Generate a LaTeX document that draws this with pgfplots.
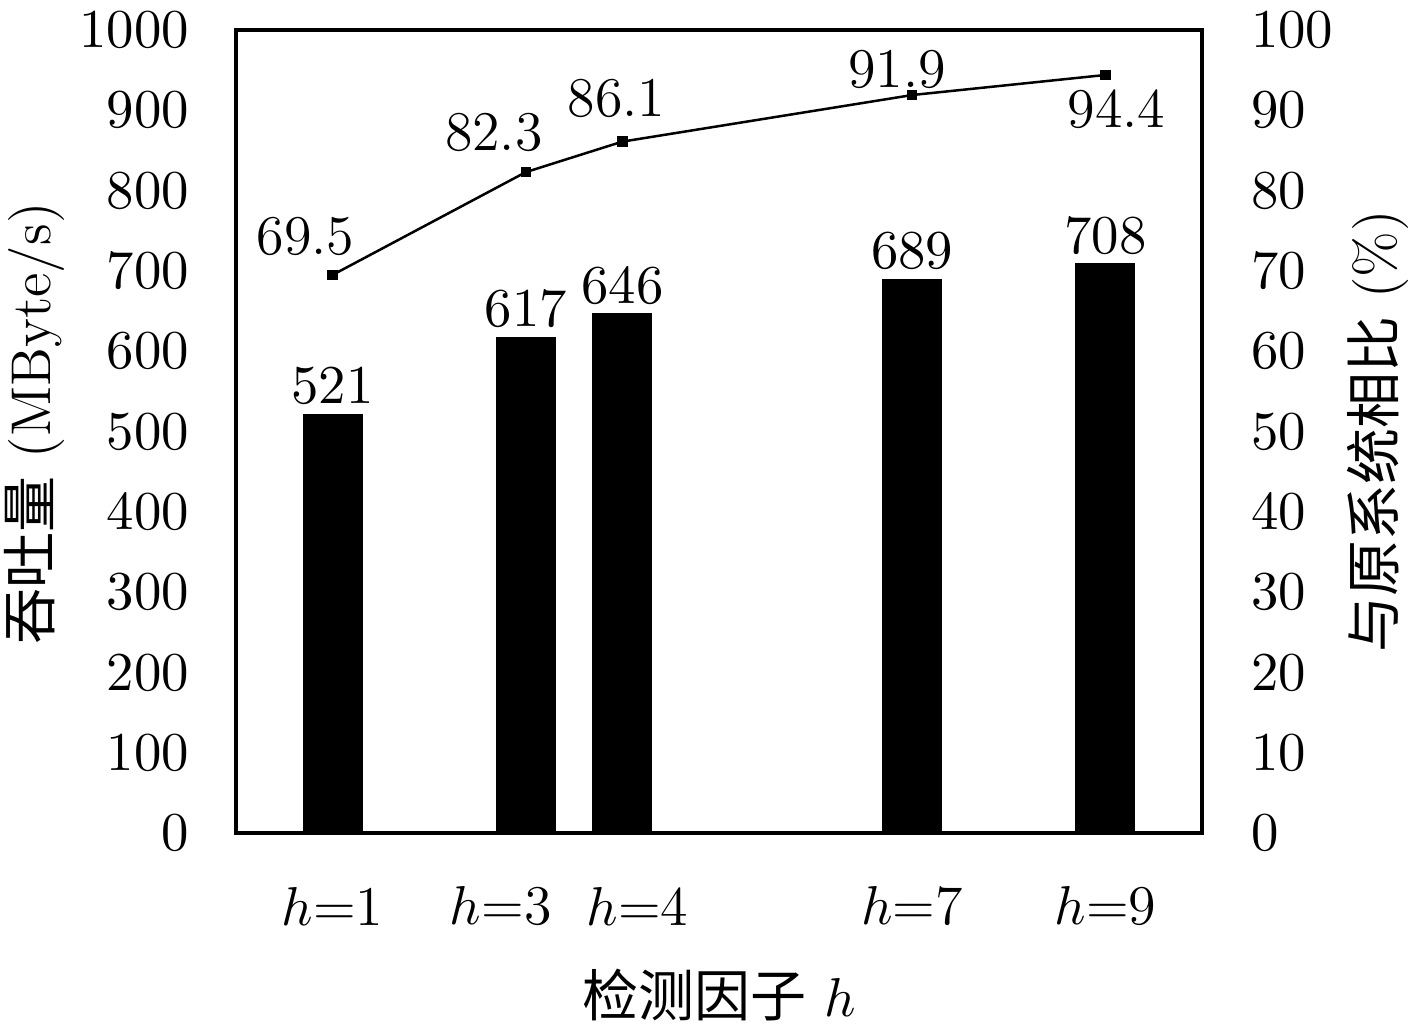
\documentclass[border=0pt]{standalone}
\usepackage{fontspec}
\usepackage{pgfplots}
\pgfplotsset{compat=1.18}
\newfontfamily\cjk{Noto Sans CJK SC}
\pgfplotstableread{
x y lab dx dy
1 69.5 69.5 -5.4 7.6
3 82.3 82.3 -6.4 8.0
4 86.1 86.1 -1.2 8.6
7 91.9 91.9 -3.0 5.2
9 94.4 94.4 2.2 -6.8
}\ratio
\begin{document}
\fontsize{11.2}{13.4}\selectfont
\begin{tikzpicture}
\begin{axis}[
  scale only axis, width=193.2pt, height=160.6pt,
  xmin=0, xmax=10, ymin=0, ymax=1000,
  ytick={0,100,...,1000}, ytick pos=left,
  /pgf/number format/1000 sep={},
  xtick={1,3,4,7,9}, xtick pos=bottom,
  xticklabels={$h$=1,$h$=3,$h$=4,$h$=7,$h$=9},
  major tick length=0pt,
  axis line style={line width=0.8pt},
  yticklabel style={anchor=east, inner sep=0pt, xshift=-9.2pt},
  xticklabel style={anchor=center, inner sep=0pt, yshift=-14.6pt,
    xshift={ifthenelse(\ticknum==1,-5,ifthenelse(\ticknum==2,3,0))}},
  xlabel={{\cjk 检测因子} $h$},
  xlabel style={at={(axis description cs:0.5,0)}, anchor=center, yshift=-32.4pt},
  ylabel={{\cjk 吞吐量} (MByte/s)},
  ylabel style={at={(axis description cs:-0.209,0.51)}, anchor=center},
]
\addplot[ybar, fill=black, draw=black, bar width=0.6,
  nodes near coords, nodes near coords style={anchor=south, inner sep=0pt, yshift=2pt}]
  coordinates {(1,521) (3,617) (4,646) (7,689) (9,708)};
\end{axis}
\begin{axis}[
  scale only axis, width=193.2pt, height=160.6pt,
  xmin=0, xmax=10, ymin=0, ymax=100,
  axis y line*=right, axis x line=none,
  ytick={0,10,...,100},
  major tick length=0pt,
  axis line style={line width=0.8pt},
  yticklabel style={anchor=west, inner sep=0pt, xshift=9.6pt},
  ylabel={{\cjk 与原系统相比} (\%)},
  ylabel style={at={(axis description cs:1.182,0.50)}, anchor=center},
]
\addplot[black, line width=0.5pt, mark=square*, mark size=0.8pt,
  point meta=explicit symbolic,
  visualization depends on={\thisrow{dx} \as \ddx},
  visualization depends on={\thisrow{dy} \as \ddy},
  nodes near coords,
  nodes near coords style={anchor=center, xshift=\ddx pt, yshift=\ddy pt}]
  table[x=x, y=y, meta=lab] {\ratio};
\end{axis}
\pgfresetboundingbox
\useasboundingbox (current axis.south west) ++(-47.2pt,-39.4pt) rectangle ++(283.4pt,206pt);
\end{tikzpicture}
\end{document}
